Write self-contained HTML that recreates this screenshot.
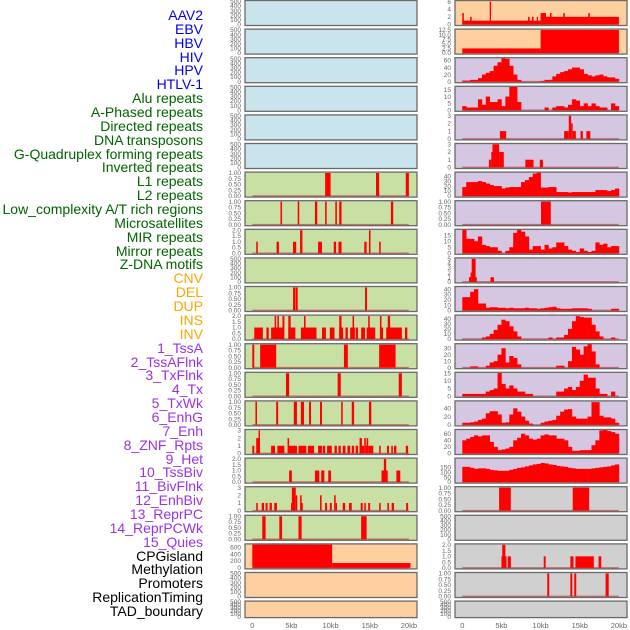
<!DOCTYPE html>
<html><head><meta charset="utf-8">
<style>
body{margin:0;background:#fff;width:630px;height:630px;overflow:hidden;font-family:"Liberation Sans",sans-serif}
#lbls div{position:absolute;right:427px;font-size:14px;line-height:14px;white-space:nowrap}
</style></head>
<body>
<div id="lbls"></div>
<svg id="chart" width="630" height="630" style="position:absolute;left:0;top:0"></svg>
<script>
const trackNames=["AAV2","EBV","HBV","HIV","HPV","HTLV-1","Alu repeats","A-Phased repeats","Directed repeats","DNA transposons","G-Quadruplex forming repeats","Inverted repeats","L1 repeats","L2 repeats","Low_complexity A/T rich regions","Microsatellites","MIR repeats","Mirror repeats","Z-DNA motifs","CNV","DEL","DUP","INS","INV","1_TssA","2_TssAFlnk","3_TxFlnk","4_Tx","5_TxWk","6_EnhG","7_Enh","8_ZNF_Rpts","9_Het","10_TssBiv","11_BivFlnk","12_EnhBiv","13_ReprPC","14_ReprPCWk","15_Quies","CPGisland","Methylation","Promoters","ReplicationTiming","TAD_boundary"];
const trackGroups=[6,13,5,15,5];
const groupColors=["#0000ee","#006400","#ffa500","#9a32e6","#000000"];
const xTickLabels=["0","5kb","10kb","15kb","20kb"];
const xTickValues=[0,5,10,15,20];
const binKb=0.5;
// left column segment data [startKb,endKb,value]
const L6=[[9.3,10.0,1],[15.8,16.2,1],[19.6,20.0,1]];
const L7=[[3.6,3.8,1],[5.8,6.0,1],[8.0,8.3,1],[9.3,9.5,1],[10.6,10.8,1],[11.1,11.4,1],[17.7,18.0,1]];
const L8=[[0.5,0.7,1],[3.1,3.4,1],[5.2,5.6,1],[6.1,6.4,2],[8.4,8.9,1],[10.4,10.7,1],[11.0,11.4,1],[14.3,14.6,1],[14.9,15.1,2],[16.2,16.4,1]];
const L10=[[5.2,5.5,1],[5.55,5.8,1],[14.4,14.65,1]];
const L11=[[0.25,1.35,1],[1.8,2.1,1],[2.4,4.0,1],[4.6,5.5,1],[6.2,8.2,1],[8.9,9.4,1],[9.9,10.5,1],[11.1,11.6,1],[11.9,12.2,1],[12.5,13.1,1],[13.2,13.5,1],[13.9,14.4,1],[14.6,15.7,1],[16.3,16.7,1],[17.1,19.1,1],[19.5,19.8,1],[2.85,3.05,2],[3.2,3.4,2],[3.85,4.1,2],[4.6,4.9,2],[6.6,6.8,2],[11.1,11.4,2],[12.8,13.0,2],[14.8,15.0,2],[17.3,17.6,2],[16.3,16.5,2]];
const L12=[[0,0.25,1],[1.0,3.05,1],[11.7,12.2,1],[16.2,18.3,1]];
const L13=[[4.3,4.7,1],[10.9,11.3,1],[18.7,19.1,1]];
const L14=[[0.4,0.6,1],[3.05,3.3,1],[5.3,5.7,1],[6.2,6.6,1],[7.25,7.5,1],[8.65,8.9,1],[11.35,11.55,1],[12.7,13.0,1],[14.9,15.2,1]];
const L15=[[0,0.25,1],[0.5,0.95,2],[0.8,0.98,3],[2.4,2.9,1],[3.2,4.1,1],[4.5,4.7,2],[4.6,5.7,1],[5.9,6.9,1],[7.1,7.9,1],[8.4,8.9,1],[9.0,9.3,1],[9.55,10.15,1],[10.5,10.8,1],[11.0,11.3,1],[11.55,11.9,1],[12.15,12.5,1],[12.7,13.0,1],[13.2,13.5,1],[13.7,14.3,1],[13.7,14.0,2],[14.3,14.5,2],[14.5,14.7,1],[14.6,14.8,2],[14.8,15.45,1],[16.2,16.4,1],[17.2,17.45,1],[17.75,17.95,1],[18.1,18.4,1],[19.6,19.9,1]];
const L16=[[4.7,5.05,1],[8.0,8.55,1],[8.8,9.2,1],[9.7,10.05,1],[16.5,17.3,1],[16.8,17.1,2],[18.4,18.9,1]];
const L17=[[0.5,0.7,1],[1.2,1.5,1],[1.7,1.95,1],[2.2,2.5,1],[2.8,3.15,1],[4.95,5.25,1],[5.05,5.55,3],[5.55,5.75,2],[6.1,6.3,2],[6.25,6.45,1],[8.65,8.85,2],[9.3,9.55,1],[9.9,10.15,1],[10.45,10.65,2],[10.65,10.8,1],[11.55,11.85,1],[12.35,12.7,1],[13.85,14.1,1],[14.3,14.5,1],[14.8,15.05,1],[16.2,16.4,1],[17.25,17.45,1],[17.8,18.1,1],[19.65,19.9,1]];
const L18=[[1.27,1.7,1],[3.45,3.8,1],[5.9,6.3,1],[13.9,14.6,1]];
const L19=[[0,10.2,680],[10.2,20.2,140]];
// right column segment data
const R0=[[0,10,1],[10,20,2],[0,0.2,3],[1.0,1.2,2],[3.5,3.6,6],[8.4,8.6,2],[8.9,9.1,2],[9.5,9.6,2],[10,10.7,3],[11.2,11.4,3],[12.9,13.1,3],[16.1,16.3,3]];
const R1=[[0,10,2.5],[10,20,12.5]];
const R4=[[4.8,5.6,1],[13.0,13.6,1],[13.6,13.9,3],[13.9,14.1,2],[14.1,14.5,1],[15.1,15.4,1],[15.85,16.35,1]];
const R5=[[3.4,3.7,1],[3.7,3.85,2],[3.85,4.7,3],[4.7,5.3,2],[8.05,9.1,1],[9.9,10.3,1]];
const R7=[[10.05,11.3,1]];
const R9=[[0.85,1.15,1],[1.05,1.2,2],[1.2,1.7,5],[1.6,1.85,1],[3.6,4.05,1]];
const R17=[[4.7,6.2,1],[14.1,16.2,1]];
const R19=[[5.0,5.65,1],[5.1,5.5,2],[5.8,6.2,1],[10.4,10.65,1],[13.8,14.2,1],[14.45,16.8,1],[17.4,17.75,1]];
const R20=[[10.85,11.1,1],[13.8,14.05,1],[14.3,14.55,1],[18.3,18.7,1]];
// right column binned profiles (0.5kb bins)
const P2=[3,3,5,5,10,20,25,30,45,55,68,65,45,20,5,0,0,0,0,0,2,5,5,15,22,27,30,35,40,40,35,22,18,15,18,20,15,12,12,8];
const P3=[3,2,2,2,8,4,10,6,6,8,3,10,17,17,6,0,0,0,0,0,0,2,0,2,3,3,2,4,8,7,3,5,3,5,3,2,2,0,5,3];
const P6=[18,28,28,28,30,28,25,22,20,20,15,17,18,18,18,28,32,38,45,47,17,17,18,18,8,8,8,7,8,8,8,8,8,8,12,12,12,10,12,15];
const P8=[20,12,12,10,14,7,6,5,5,2,0,2,5,17,20,18,14,3,6,6,3,7,4,5,9,9,6,3,2,1,4,2,1,2,9,7,8,5,6,6];
const P10=[25,25,35,40,13,13,5,6,6,5,5,4,5,4,4,4,5,4,4,3,4,5,6,7,4,3,3,3,4,4,4,4,3,0,0,0,0,0,3,3];
const P11=[0,0,0,0,0,3,5,10,18,28,38,35,25,15,5,0,0,0,0,0,0,0,3,0,3,3,8,20,35,45,43,42,42,28,15,5,0,0,3,0];
const P12=[0,0,2,2,0,0,3,8,10,20,30,8,18,15,5,0,0,0,0,0,0,0,0,0,3,3,0,10,32,28,20,33,37,25,5,0,0,0,0,0];
const P13=[1.5,1.5,1.5,1.5,1.5,1.5,3,4,5,15,8,5,7,5,3,3,1.5,1.5,0,0,0,0,0,0,3,3,5,6,4,6,10,14,12,12,5,1.5,1.5,0,3,0];
const P14=[5,5,6,8,12,15,28,33,33,25,5,6,25,40,32,20,10,3,0,0,5,8,10,12,22,32,37,38,20,15,15,15,20,55,55,22,18,18,15,5];
const P15=[40,45,50,55,52,55,55,35,20,10,12,15,20,40,48,60,55,45,42,45,55,58,55,55,45,45,40,20,8,8,10,10,10,25,40,70,72,68,65,60];
const P16=[155,155,145,135,140,140,135,125,120,115,115,115,125,135,145,150,160,170,180,185,195,190,180,175,165,160,155,145,140,135,135,135,135,140,145,150,155,160,170,180];
// y tick label arrays
const T500=["0","100","200","300","400","500"], T1=["0.00","0.25","0.50","0.75","1.00"], T2=["0.0","0.5","1.0","1.5","2.0"], T3=["0","1","2","3"];
const panels=[
 // col,row,bg,yHi,tickVals,tickLabels,segs,profile
 [0,0,"#c9e4ec",520,[0,100,200,300,400,500],T500,null,null],
 [0,1,"#c9e4ec",520,[0,100,200,300,400,500],T500,null,null],
 [0,2,"#c9e4ec",520,[0,100,200,300,400,500],T500,null,null],
 [0,3,"#c9e4ec",520,[0,100,200,300,400,500],T500,null,null],
 [0,4,"#c9e4ec",520,[0,100,200,300,400,500],T500,null,null],
 [0,5,"#c9e4ec",520,[0,100,200,300,400,500],T500,null,null],
 [0,6,"#c9e0a5",1.04,[0,.25,.5,.75,1],T1,L6,null],
 [0,7,"#c9e0a5",1.04,[0,.25,.5,.75,1],T1,L7,null],
 [0,8,"#c9e0a5",2.08,[0,.5,1,1.5,2],T2,L8,null],
 [0,9,"#c9e0a5",520,[0,100,200,300,400,500],T500,null,null],
 [0,10,"#c9e0a5",1.04,[0,.25,.5,.75,1],T1,L10,null],
 [0,11,"#c9e0a5",2.08,[0,.5,1,1.5,2],T2,L11,null],
 [0,12,"#c9e0a5",1.04,[0,.25,.5,.75,1],T1,L12,null],
 [0,13,"#c9e0a5",1.04,[0,.25,.5,.75,1],T1,L13,null],
 [0,14,"#c9e0a5",1.04,[0,.25,.5,.75,1],T1,L14,null],
 [0,15,"#c9e0a5",3.12,[0,1,2,3],T3,L15,null],
 [0,16,"#c9e0a5",2.08,[0,.5,1,1.5,2],T2,L16,null],
 [0,17,"#c9e0a5",3.12,[0,1,2,3],T3,L17,null],
 [0,18,"#c9e0a5",1.04,[0,.25,.5,.75,1],T1,L18,null],
 [0,19,"#fed0a0",700,[0,200,400,600],["0","200","400","600"],L19,null],
 [0,20,"#fed0a0",520,[0,100,200,300,400,500],T500,null,null],
 [0,21,"#fed0a0",520,[0,100,200,300,400,500],T500,null,null],
 [1,0,"#fed0a0",6.3,[0,2,4,6],["0","2","4","6"],R0,null],
 [1,1,"#fed0a0",13,[0,2.5,5,7.5,10,12.5],["0.0","2.5","5.0","7.5","10.0","12.5"],R1,null],
 [1,2,"#d5c6e2",68,[0,20,40,60],["0","20","40","60"],null,P2],
 [1,3,"#d5c6e2",17.5,[0,5,10,15],["0","5","10","15"],null,P3],
 [1,4,"#d5c6e2",3.1,[0,1,2,3],T3,R4,null],
 [1,5,"#d5c6e2",3.1,[0,1,2,3],T3,R5,null],
 [1,6,"#d5c6e2",48,[0,10,20,30,40],["0","10","20","30","40"],null,P6],
 [1,7,"#d5c6e2",1.04,[0,.25,.5,.75,1],T1,R7,null],
 [1,8,"#d5c6e2",20,[0,5,10,15],["0","5","10","15"],null,P8],
 [1,9,"#d5c6e2",5.2,[0,1,2,3,4,5],["0","1","2","3","4","5"],R9,null],
 [1,10,"#d5c6e2",45,[0,10,20,30,40],["0","10","20","30","40"],null,P10],
 [1,11,"#d5c6e2",47,[0,10,20,30,40],["0","10","20","30","40"],null,P11],
 [1,12,"#d5c6e2",37,[0,10,20,30],["0","10","20","30"],null,P12],
 [1,13,"#d5c6e2",15.5,[0,5,10,15],["0","5","10","15"],null,P13],
 [1,14,"#d5c6e2",58,[0,20,40],["0","20","40"],null,P14],
 [1,15,"#d5c6e2",73,[0,20,40,60],["0","20","40","60"],null,P15],
 [1,16,"#d5c6e2",245,[0,50,100,150],["0","50","100","150"],null,P16],
 [1,17,"#d0d0d0",1.04,[0,.25,.5,.75,1],T1,R17,null],
 [1,18,"#d0d0d0",520,[0,100,200,300,400,500],T500,null,null],
 [1,19,"#d0d0d0",2.08,[0,.5,1,1.5,2],T2,R19,null],
 [1,20,"#d0d0d0",1.04,[0,.25,.5,.75,1],T1,R20,null],
 [1,21,"#d0d0d0",520,[0,100,200,300,400,500],T500,null,null]
];
const NS="http://www.w3.org/2000/svg";
const svg=document.getElementById("chart");
function mk(tag,attrs,parent){const e=document.createElementNS(NS,tag);for(const k in attrs)e.setAttribute(k,attrs[k]);(parent||svg).appendChild(e);return e;}
// labels
const lb=document.getElementById("lbls");
let gi=0,cnt=0;
trackNames.forEach((n,i)=>{
  while(cnt>=trackGroups[gi]){cnt=0;gi++;}
  cnt++;
  const d=document.createElement("div");
  d.textContent=n;
  d.style.top=(8+i*13.86)+"px";
  d.style.color=groupColors[gi];
  
  
  lb.appendChild(d);
});
const colX=[245,455], panelW=172;
function xs(col,kb){return colX[col]+7.3+kb*7.83;}
function rowTop(r){return r*28.6+0.5;}
function rowH(r){return r===21?16.5:25;}
panels.forEach(p=>{
  const [col,row,bg,yHi,tv,tl,segs,prof]=p;
  const top=rowTop(row),h=rowH(row),yLo=-yHi*0.045;
  const ys=v=>top+h-(v-yLo)/(yHi-yLo)*h;
  const g=mk("g",{});
  
  
  mk("rect",{x:colX[col],y:top,width:panelW,height:h,fill:bg},g);
  const hasData=segs||prof;
  if(hasData){
    const bl=mk("line",{x1:xs(col,0),x2:xs(col,20),y1:ys(0),y2:ys(0),stroke:"rgba(190,40,40,0.6)","stroke-width":1.5},g);
    
    
  }
  if(segs){segs.forEach(s=>{
    const x1=xs(col,s[0]),x2=xs(col,s[1]);
    const r=mk("rect",{x:x1,y:ys(s[2]),width:Math.max(x2-x1,1.3),height:ys(0)-ys(s[2]),fill:"#ff0000"},g);
    
    
  });}
  if(prof){prof.forEach((v,i)=>{
    if(v<=0)return;
    const x1=xs(col,i*binKb),x2=xs(col,(i+1)*binKb);
    const r=mk("rect",{x:x1,y:ys(v),width:x2-x1+0.3,height:ys(0)-ys(v),fill:"#ff0000"},g);
    
    
  });}
  mk("rect",{x:colX[col],y:top,width:panelW,height:h,fill:"none",stroke:"#6a6a6a","stroke-width":1.3},g);
  tv.forEach((v,i)=>{
    const t=mk("text",{x:colX[col]-4,y:ys(v)+2.2,"text-anchor":"end","font-size":"6.5","fill":"#666","font-family":"Liberation Sans, sans-serif"},g);
    t.textContent=tl[i];
    
    
  });
});
[0,1].forEach(col=>{xTickValues.forEach((v,i)=>{
  const t=mk("text",{x:xs(col,v),y:628,"text-anchor":"middle","font-size":"7.5","fill":"#666","font-family":"Liberation Sans, sans-serif"});
  t.textContent=xTickLabels[i];
  
  
});});
</script>
</body></html>
